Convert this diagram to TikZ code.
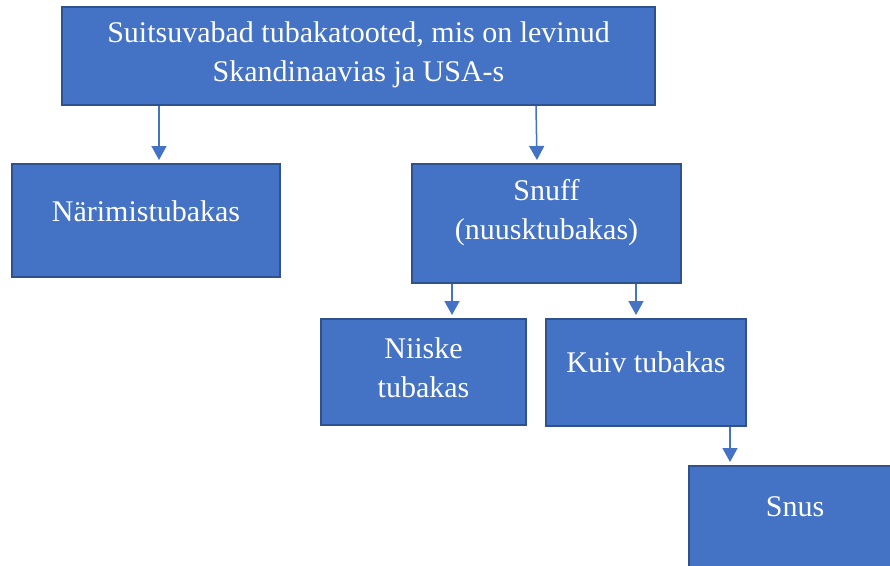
\documentclass[tikz,border=0pt]{standalone}
\usepackage{fontspec}
\setmainfont{Liberation Serif}
\usetikzlibrary{arrows.meta}
\definecolor{boxfill}{HTML}{4472C4}
\definecolor{boxline}{HTML}{2F528F}
\tikzset{
  box/.style={draw=boxline, fill=boxfill, line width=2pt, inner sep=0pt},
  txt/.style={text=white, font=\fontsize{30}{39}\selectfont, align=center, inner sep=0pt},
  arr/.style={draw=boxfill, line width=1.5pt, -{Triangle[width=15pt,length=14pt]}, shorten >=3pt}
}
\begin{document}
\begin{tikzpicture}[x=1pt,y=-1pt]
\useasboundingbox (0,0) rectangle (890,565);
\clip (0,0) rectangle (890,565);
% boxes
\node[box, minimum width=593pt, minimum height=98pt] (top) at (358.5,56) {};
\node[box, minimum width=268pt, minimum height=113pt] (nar) at (146,220.5) {};
\node[box, minimum width=269pt, minimum height=119pt] (snuff) at (546.5,223.5) {};
\node[box, minimum width=205pt, minimum height=106pt] (niiske) at (423.5,372) {};
\node[box, minimum width=200pt, minimum height=107pt] (kuiv) at (646,372.5) {};
\node[box, minimum width=204pt, minimum height=140pt] (snus) at (791,536) {};
% texts
\node[txt] (topT) at (358.5,55) {Suitsuvabad tubakatooted, mis on levinud\\Skandinaavias ja USA-s};
\node[txt] (narT) at (146,211) {Närimistubakas};
\node[txt] (snuffT) at (546.5,213) {Snuff\\(nuusktubakas)};
\node[txt] (niiskeT) at (423.5,367.5) {Niiske\\tubakas};
\node[txt] (kuivT) at (646,362) {Kuiv tubakas};
\node[txt] (snusT) at (795,507) {Snus};
% arrows
\draw[arr] ([xshift=98pt]top.south west) -- ([xshift=148pt]nar.north west);
\draw[arr] ([xshift=475pt]top.south west) -- ([xshift=126pt]snuff.north west);
\draw[arr] ([xshift=41pt]snuff.south west) -- ([xshift=132pt]niiske.north west);
\draw[arr] ([xshift=225pt]snuff.south west) -- ([xshift=91pt]kuiv.north west);
\draw[arr] ([xshift=185pt]kuiv.south west) -- ([xshift=42pt]snus.north west);
\end{tikzpicture}
\end{document}
